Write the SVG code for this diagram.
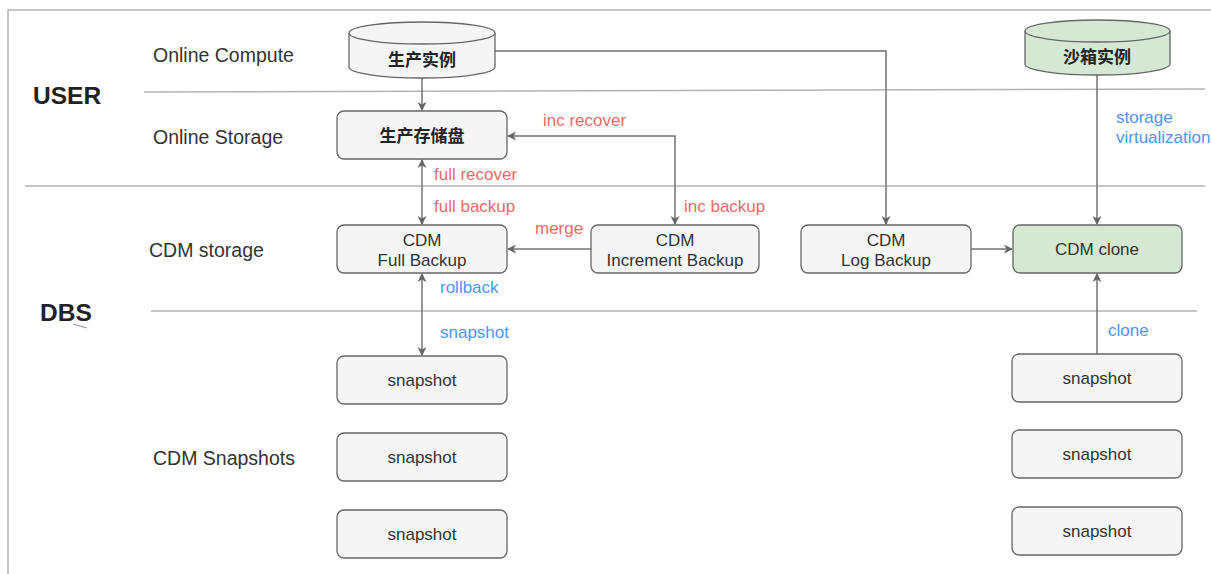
<svg xmlns="http://www.w3.org/2000/svg" width="1211" height="574" viewBox="0 0 1211 574">
  <style>
    .lane { font-family: "Liberation Sans", Arial, sans-serif; font-size: 19.5px; fill: #333; }
    .zone { font-family: "Liberation Sans", Arial, sans-serif; font-size: 24.5px; font-weight: bold; fill: #222; }
    .box { fill: #f5f5f5; stroke: #666; stroke-width: 1.3; }
    .green { fill: #d5e8d4; stroke: #666; stroke-width: 1.3; }
    .txt { font-family: "Liberation Sans", Arial, sans-serif; font-size: 17px; fill: #333; text-anchor: middle; }
    .cjk { font-family: "Noto Sans CJK SC", "Liberation Sans", sans-serif; font-size: 17px; font-weight: bold; fill: #222; text-anchor: middle; }
    .divider { stroke: #b3b3b3; stroke-width: 1.5; fill: none; }
    .edge { stroke: #737373; stroke-width: 1.5; fill: none; }
    .red { font-family: "Liberation Sans", Arial, sans-serif; font-size: 17px; fill: #ea6b66; }
    .blue { font-family: "Liberation Sans", Arial, sans-serif; font-size: 17px; fill: #4d94ff; }
  </style>
  <defs>
    <marker id="arrow" viewBox="0 0 10 10" refX="9" refY="5" markerWidth="9" markerHeight="9" markerUnits="userSpaceOnUse" orient="auto-start-reverse">
      <path d="M0,0 L10,5 L0,10 L3,5 Z" fill="#666"/>
    </marker>
  </defs>

  <rect x="0" y="0" width="1211" height="574" fill="#fff"/>

  <!-- frame and swimlane dividers -->
  <g id="frame">
    <path class="divider" d="M8,574 V10 H1211" stroke="#d0d0d0"/>
    <path class="divider" d="M144,92 L1205,89"/>
    <path class="divider" d="M25,186 H1205"/>
    <path class="divider" d="M151,311 H1197"/>
    <path d="M73,324 L87,328" stroke="#999" stroke-width="1.2"/>
  </g>

  <!-- lane titles -->
  <g id="lanes">
    <text class="zone" x="33" y="104">USER</text>
    <text class="zone" x="40" y="321">DBS</text>
    <text class="lane" x="153" y="62">Online Compute</text>
    <text class="lane" x="153" y="144">Online Storage</text>
    <text class="lane" x="149" y="257">CDM storage</text>
    <text class="lane" x="153" y="465">CDM Snapshots</text>
  </g>

  <!-- connectors -->
  <g id="connectors">
    <path class="edge" d="M422,78 V110" marker-end="url(#arrow)"/>
    <path class="edge" d="M495,51 H886 V224" marker-end="url(#arrow)"/>
    <path class="edge" d="M508,136 H675 V224" marker-start="url(#arrow)" marker-end="url(#arrow)"/>
    <path class="edge" d="M422,160 V224" marker-start="url(#arrow)" marker-end="url(#arrow)"/>
    <path class="edge" d="M591,249 H508" marker-end="url(#arrow)"/>
    <path class="edge" d="M971,249 H1012" marker-end="url(#arrow)"/>
    <path class="edge" d="M1097,75 V224" marker-end="url(#arrow)"/>
    <path class="edge" d="M422,274 V355" marker-start="url(#arrow)" marker-end="url(#arrow)"/>
    <path class="edge" d="M1097,354 V274" marker-end="url(#arrow)"/>
  </g>

  <!-- connector labels -->
  <g id="edge-labels">
    <text class="red" x="543" y="126">inc recover</text>
    <text class="red" x="434" y="180">full recover</text>
    <text class="red" x="434" y="212">full backup</text>
    <text class="red" x="535" y="234">merge</text>
    <text class="red" x="684" y="212">inc backup</text>
    <text class="blue" x="440" y="293">rollback</text>
    <text class="blue" x="440" y="338">snapshot</text>
    <text class="blue" x="1116" y="123">storage</text>
    <text class="blue" x="1116" y="143">virtualization</text>
    <text class="blue" x="1108" y="336">clone</text>
  </g>

  <g id="prod-instance">
    <path class="box" d="M349,33 A73,11 0 0 1 495,33 V67 A73,11 0 0 1 349,67 Z"/>
    <path class="box" d="M349,33 A73,11 0 0 0 495,33" fill="none"/>
    <text class="cjk" x="422" y="66">生产实例</text>
  </g>

  <g id="sandbox-instance">
    <path class="green" d="M1025,31 A72.5,11 0 0 1 1170,31 V64 A72.5,11 0 0 1 1025,64 Z"/>
    <path class="green" d="M1025,31 A72.5,11 0 0 0 1170,31" fill="none"/>
    <text class="cjk" x="1097" y="63">沙箱实例</text>
  </g>

  <g id="prod-storage">
    <rect class="box" x="337" y="111" width="170" height="48" rx="7"/>
    <text class="cjk" x="422" y="142">生产存储盘</text>
  </g>

  <g id="full-backup">
    <rect class="box" x="337" y="225" width="170" height="48" rx="7"/>
    <text class="txt" x="422" y="246">CDM</text>
    <text class="txt" x="422" y="266">Full Backup</text>
  </g>

  <g id="inc-backup">
    <rect class="box" x="591" y="225" width="168" height="48" rx="7"/>
    <text class="txt" x="675" y="246">CDM</text>
    <text class="txt" x="675" y="266">Increment Backup</text>
  </g>

  <g id="log-backup">
    <rect class="box" x="801" y="225" width="170" height="48" rx="7"/>
    <text class="txt" x="886" y="246">CDM</text>
    <text class="txt" x="886" y="266">Log Backup</text>
  </g>

  <g id="cdm-clone">
    <rect class="green" x="1013" y="225" width="169" height="48" rx="7"/>
    <text class="txt" x="1097" y="255">CDM clone</text>
  </g>

  <g id="snap-l1">
    <rect class="box" x="337" y="356" width="170" height="48" rx="7"/>
    <text class="txt" x="422" y="386">snapshot</text>
  </g>
  <g id="snap-l2">
    <rect class="box" x="337" y="433" width="170" height="48" rx="7"/>
    <text class="txt" x="422" y="463">snapshot</text>
  </g>
  <g id="snap-l3">
    <rect class="box" x="337" y="510" width="170" height="48" rx="7"/>
    <text class="txt" x="422" y="540">snapshot</text>
  </g>

  <g id="snap-r1">
    <rect class="box" x="1012" y="354" width="170" height="48" rx="7"/>
    <text class="txt" x="1097" y="384">snapshot</text>
  </g>
  <g id="snap-r2">
    <rect class="box" x="1012" y="430" width="170" height="48" rx="7"/>
    <text class="txt" x="1097" y="460">snapshot</text>
  </g>
  <g id="snap-r3">
    <rect class="box" x="1012" y="507" width="170" height="48" rx="7"/>
    <text class="txt" x="1097" y="537">snapshot</text>
  </g>
</svg>
